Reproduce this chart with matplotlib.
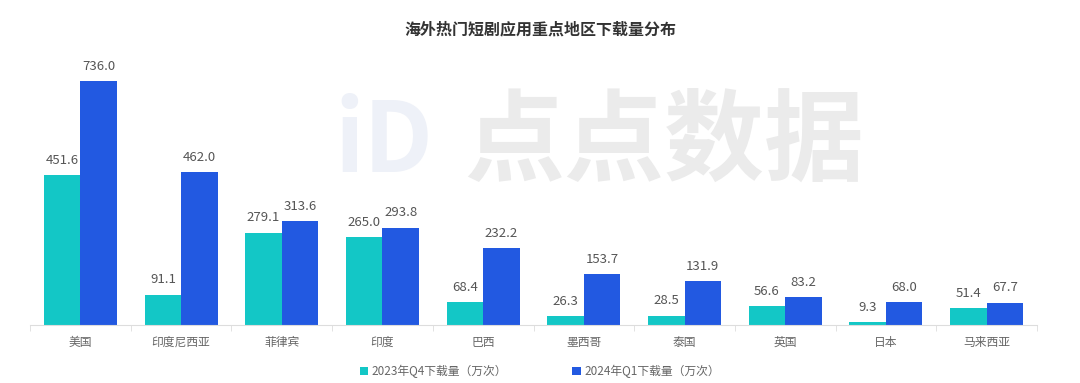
import numpy as np
import matplotlib.pyplot as plt

plt.rcParams['font.family'] = ['Noto Sans CJK SC', 'DejaVu Sans']

regions = ["美国", "印度尼西亚", "菲律宾", "印度", "巴西", "墨西哥", "泰国", "英国", "日本", "马来西亚"]
q4_2023 = [451.6, 91.1, 279.1, 265.0, 68.4, 26.3, 28.5, 56.6, 9.3, 51.4]
q1_2024 = [736.0, 462.0, 313.6, 293.8, 232.2, 153.7, 131.9, 83.2, 68.0, 67.7]
series_names = ["2023年Q4下载量（万次）", "2024年Q1下载量（万次）"]
colors = ["#13C7C6", "#2259E1"]

fig = plt.figure(figsize=(10.8, 3.83), dpi=100)
ax = fig.add_axes([30 / 1080, 58 / 383, 1007 / 1080, 265 / 383])

x = np.arange(len(regions))
w = 0.362
bars1 = ax.bar(x - w / 2, q4_2023, w, color=colors[0], label=series_names[0], zorder=2)
bars2 = ax.bar(x + w / 2, q1_2024, w, color=colors[1], label=series_names[1], zorder=2)

for bars, vals in ((bars1, q4_2023), (bars2, q1_2024)):
    for b, v in zip(bars, vals):
        ax.annotate(f"{v:.1f}", (b.get_x() + b.get_width() / 2, v), xytext=(0, 6),
                    textcoords="offset points", ha="center", va="bottom",
                    fontsize=9.5, color="#555555")

ax.set_xlim(-0.5, len(regions) - 0.5)
ax.set_ylim(0, 800)
ax.set_yticks([])
for s in ("top", "right", "left"):
    ax.spines[s].set_visible(False)
ax.spines["bottom"].set_color("#dddddd")
ax.set_xticks(x)
ax.set_xticklabels(regions, fontsize=8.5, color="#666666")
ax.set_xticks(np.arange(len(regions) + 1) - 0.5, minor=True)
ax.tick_params(axis="x", which="major", length=0, pad=8)
ax.tick_params(axis="x", which="minor", length=4, color="#dddddd")

# watermark
fig.text(0.615, 0.625, "点点数据", fontsize=72, fontweight="bold", color="#ebebeb",
         ha="center", va="center", zorder=0)
fig.text(0.355, 0.625, "iD", fontsize=70, fontweight="bold", color="#eef1f8",
         ha="center", va="center", zorder=0)

fig.suptitle("海外热门短剧应用重点地区下载量分布", y=0.945, fontsize=11.5,
             fontweight="bold", color="#333333")

fig.legend(handles=[bars1, bars2], labels=series_names, loc="center",
           bbox_to_anchor=(0.5, 0.03), ncol=2, frameon=False, fontsize=8.5,
           labelcolor="#666666", handlelength=0.7, handleheight=0.7,
           handletextpad=0.3, columnspacing=5.5)

fig.savefig("out.png", dpi=100)
